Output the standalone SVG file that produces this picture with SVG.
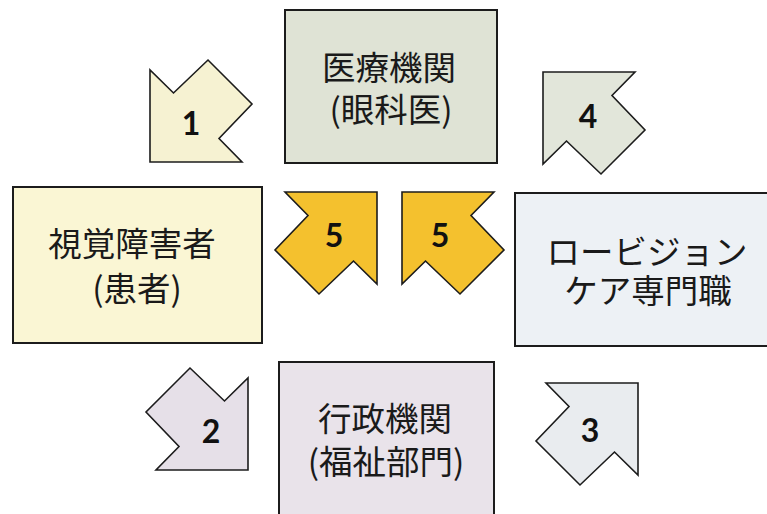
<svg xmlns="http://www.w3.org/2000/svg" width="767" height="514" viewBox="0 0 767 514">
<defs>
<style>
.box{stroke:#1c1c1c;stroke-width:2}
.lbl{font-family:"Noto Sans CJK JP","Noto Sans",sans-serif;font-size:33.5px;fill:#1a1a1a;text-anchor:middle}
.arr{stroke:#1c1c1c;stroke-width:1.6;stroke-linejoin:miter}
.num{font-family:"Lato","Liberation Sans",sans-serif;font-weight:bold;font-size:32px;fill:#111;text-anchor:middle}
</style>
<path id="arrow" d="M0,0 L92,0 L69,23.5 L102,58 L58,102 L23.5,69 L0,92 Z"/>
</defs>
<rect width="767" height="514" fill="#ffffff"/>

<g id="node-iryou">
<rect class="box" x="285" y="10" width="212" height="153" fill="#dfe3d5"/>
<text class="lbl" x="389" y="80">医療機関</text>
<text class="lbl" x="391" y="122">(眼科医)</text>
</g>

<g id="node-patient">
<rect class="box" x="13" y="187" width="249" height="156" fill="#faf6d4"/>
<text class="lbl" x="132" y="256">視覚障害者</text>
<text class="lbl" x="137" y="301">(患者)</text>
</g>

<g id="node-lowvision">
<rect class="box" x="515" y="193" width="262" height="153" fill="#edf1f5"/>
<text class="lbl" x="647" y="264">ロービジョン</text>
<text class="lbl" x="648" y="303">ケア専門職</text>
</g>

<g id="node-gyousei">
<rect class="box" x="279" y="362" width="215" height="162" fill="#e9e3ea"/>
<text class="lbl" x="385" y="431">行政機関</text>
<text class="lbl" x="386" y="474">(福祉部門)</text>
</g>

<g id="connectors">
<g id="arrow-1">
<use href="#arrow" class="arr" fill="#f6f2d2" transform="translate(150,162) scale(1,-1)"/>
<text class="num" x="191" y="135">1</text>
</g>
<g id="arrow-2">
<use href="#arrow" class="arr" fill="#e6e0e8" transform="translate(248,470) scale(-1,-1)"/>
<text class="num" x="211" y="443">2</text>
</g>
<g id="arrow-3">
<use href="#arrow" class="arr" fill="#e9ecef" transform="translate(638,383) scale(-1,1)"/>
<text class="num" x="590" y="442">3</text>
</g>
<g id="arrow-4">
<use href="#arrow" class="arr" fill="#e2e6da" transform="translate(543,72)"/>
<text class="num" x="588" y="128">4</text>
</g>
<g id="arrow-5a">
<use href="#arrow" class="arr" fill="#f4c12e" transform="translate(377,192) scale(-1,1)"/>
<text class="num" x="334" y="247">5</text>
</g>
<g id="arrow-5b">
<use href="#arrow" class="arr" fill="#f4c12e" transform="translate(402,192)"/>
<text class="num" x="440" y="247">5</text>
</g>
</g>
</svg>
